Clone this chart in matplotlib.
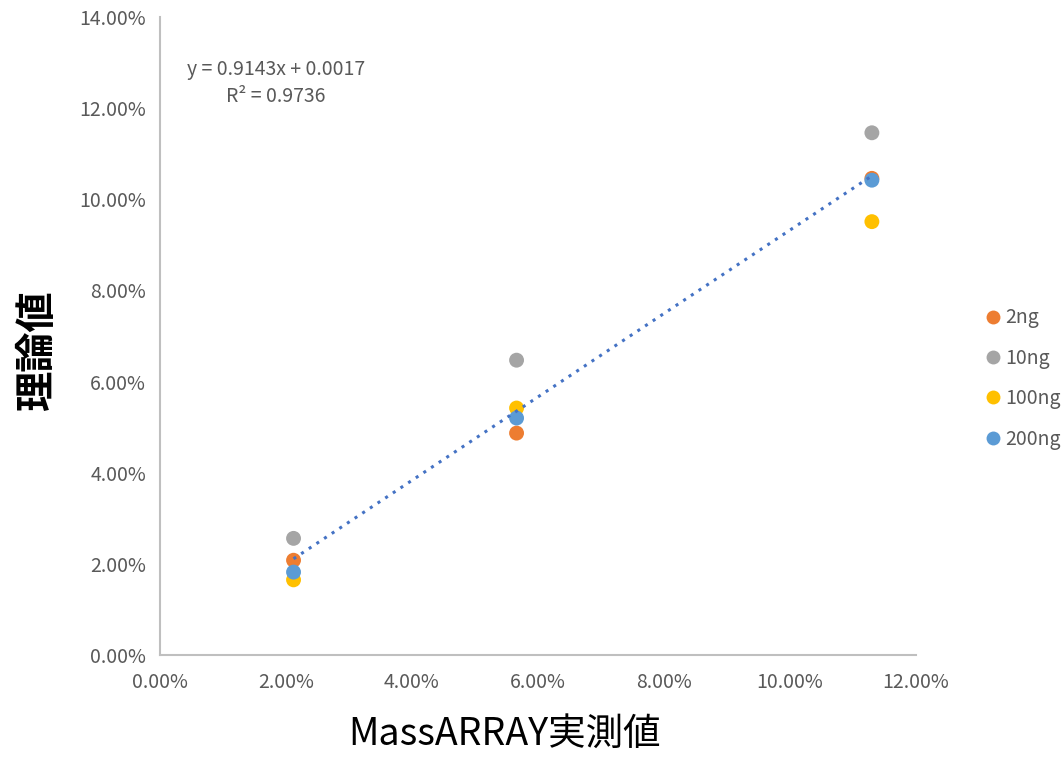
import numpy as np
import matplotlib
matplotlib.use("Agg")
import matplotlib.pyplot as plt
from matplotlib.ticker import FuncFormatter
from matplotlib.lines import Line2D

plt.rcParams['font.family'] = ['Noto Sans CJK JP', 'DejaVu Sans']

# data (fractions)
x_vals = [0.0212, 0.0566, 0.1130]
series_names = ["2ng", "10ng", "100ng", "200ng"]
y_2ng = [0.0208, 0.0487, 0.1046]
y_10ng = [0.0256, 0.0647, 0.1146]
y_100ng = [0.0165, 0.0542, 0.0951]
y_200ng = [0.0182, 0.0520, 0.1042]
colors = ["#ED7D31", "#A5A5A5", "#FFC000", "#5B9BD5"]
eq_text = "y = 0.9143x + 0.0017"
r2_text = "R² = 0.9736"

fig = plt.figure(figsize=(10.63, 7.57), dpi=100)
ax = fig.add_axes([0.1505, 0.1347, 0.7112, 0.8428])

all_y = [y_2ng, y_10ng, y_100ng, y_200ng]
for name, ys, c in zip(series_names, all_y, colors):
    ax.scatter(x_vals, ys, s=115, color=c, edgecolors='none', zorder=3, label=name)

# linear trendline over all points
xs = np.tile(x_vals, 4)
ys = np.concatenate(all_y)
slope, icpt = np.polyfit(xs, ys, 1)
xl = np.array([min(x_vals), max(x_vals)])
ax.plot(xl, slope * xl + icpt, linestyle=(0, (1, 2)), color="#4472C4", lw=2.2, zorder=4)

ax.text(0.0184, 0.1285, eq_text, ha='center', va='center', fontsize=14, color="#595959")
ax.text(0.0184, 0.1225, r2_text, ha='center', va='center', fontsize=14, color="#595959")

ax.set_xlim(0, 0.12)
ax.set_ylim(0, 0.14)
ax.set_xticks(np.arange(0, 0.121, 0.02))
ax.set_yticks(np.arange(0, 0.141, 0.02))
pct = FuncFormatter(lambda v, p: f"{v*100:.2f}%")
ax.xaxis.set_major_formatter(pct)
ax.yaxis.set_major_formatter(pct)
ax.tick_params(length=0, labelsize=14, labelcolor="#595959")
ax.tick_params(axis='y', pad=10)
ax.tick_params(axis='x', pad=12)
for s in ["top", "right"]:
    ax.spines[s].set_visible(False)
for s in ["left", "bottom"]:
    ax.spines[s].set_color("#BFBFBF")
    ax.spines[s].set_linewidth(1.5)

ax.set_xlabel("MassARRAY実測値", fontsize=27)
ax.xaxis.set_label_coords(0.456, -0.093)
ax.set_ylabel("理論値", fontsize=29, fontweight='bold')
ax.yaxis.set_label_coords(-0.135, 0.478)

handles = [Line2D([], [], marker='o', linestyle='none', markersize=10,
                  markerfacecolor=c, markeredgecolor='none') for c in colors]
leg = fig.legend(handles, series_names, loc='center left', bbox_to_anchor=(0.907, 0.5),
                 frameon=False, fontsize=14, handletextpad=0.0, labelspacing=1.0,
                 handlelength=1.2)
for t in leg.get_texts():
    t.set_color("#595959")

fig.savefig("out.png", dpi=100)
